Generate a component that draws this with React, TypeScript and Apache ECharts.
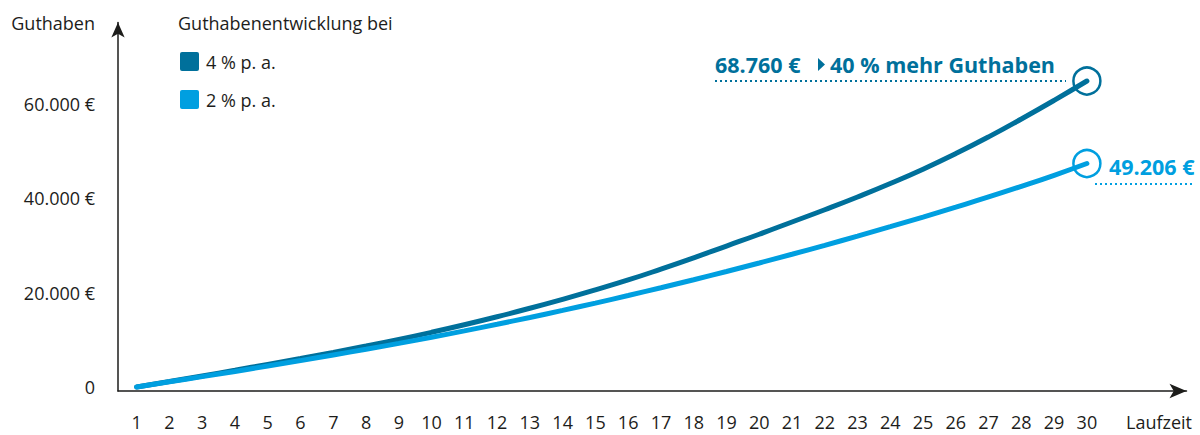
import React, { useEffect, useRef } from "react";
import * as echarts from "echarts";

const years = [1, 2, 3, 4, 5, 6, 7, 8, 9, 10, 11, 12, 13, 14, 15, 16, 17, 18, 19, 20, 21, 22, 23, 24, 25, 26, 27, 28, 29, 30];
const values4 = [0, 1150, 2350, 3550, 4800, 6050, 7350, 8700, 10100, 11600, 13200, 14900, 16700, 18600, 20600, 22700, 25000, 27400, 29900, 32400, 35000, 37600, 40300, 43150, 46200, 49500, 53050, 56850, 60800, 64900];
const values2 = [0, 1100, 2200, 3300, 4450, 5600, 6800, 8000, 9250, 10550, 11900, 13300, 14750, 16250, 17800, 19400, 21050, 22750, 24500, 26300, 28150, 30050, 32000, 34000, 36050, 38150, 40300, 42550, 44900, 47400];
const yTicks = [0, 20000, 40000, 60000];
const seriesNames = ["4 % p. a.", "2 % p. a."];
const label4 = "68.760 €";
const label4b = "40 % mehr Guthaben";
const label2 = "49.206 €";

const DARK = "#00709b";
const LIGHT = "#009fe0";
const TEXT = "#1d1d1b";
const FONT = "'Open Sans', sans-serif";

function fmt(v: number): string {
  if (v === 0) return "0";
  return String(v).replace(/\B(?=(\d{3})+(?!\d))/g, ".") + " €";
}

export default function App() {
  const ref = useRef<HTMLDivElement>(null);
  useEffect(() => {
    document.body.style.margin = "0";
    const chart = echarts.init(ref.current!, null, { renderer: "svg" });
    const last = years.length - 1;
    chart.setOption({
      animation: false,
      backgroundColor: "#ffffff",
      textStyle: { fontFamily: FONT },
      grid: { left: 118, right: 13.5, top: 22.5, bottom: 44 },
      legend: {
        orient: "vertical",
        left: 180,
        top: 52,
        padding: 0,
        itemWidth: 19,
        itemHeight: 19,
        itemGap: 19,
        icon: "path://M2,0H17Q19,0 19,2V17Q19,19 17,19H2Q0,19 0,17V2Q0,0 2,0Z",
        data: seriesNames,
        textStyle: { fontSize: 18, color: TEXT, fontFamily: FONT, padding: [0, 0, 0, 2] },
      },
      xAxis: {
        type: "value",
        min: 0.43,
        max: 33.04,
        splitLine: { show: false },
        axisTick: { show: false },
        axisLine: {
          onZero: false,
          symbol: ["none", "arrow"],
          symbolSize: [11, 17],
          lineStyle: { color: "#1d1d1b", width: 1.5 },
        },
        axisLabel: {
          customValues: years,
          fontSize: 18,
          color: TEXT,
          margin: 22,
          fontFamily: FONT,
        },
      },
      yAxis: {
        type: "value",
        min: -850,
        max: 77310,
        splitLine: { show: false },
        axisTick: { show: false },
        axisLine: {
          show: true,
          onZero: false,
          symbol: ["none", "arrow"],
          symbolSize: [10, 15],
          lineStyle: { color: "#1d1d1b", width: 1.5 },
        },
        axisLabel: {
          customValues: yTicks,
          formatter: (v: number) => fmt(v),
          fontSize: 18,
          color: TEXT,
          margin: 23,
          fontFamily: FONT,
        },
      },
      series: [
        {
          name: seriesNames[0],
          type: "line",
          smooth: true,
          symbol: "none",
          color: DARK,
          lineStyle: { width: 5, color: DARK, cap: "round" },
          data: years.map((y, i) => [y, values4[i]]),
          markPoint: {
            symbol: "circle",
            symbolSize: 27,
            label: { show: false },
            itemStyle: { color: "rgba(0,0,0,0)", borderColor: DARK, borderWidth: 2.5 },
            data: [{ coord: [years[last], values4[last]] }],
          },
          z: 2,
        },
        {
          name: seriesNames[1],
          type: "line",
          smooth: true,
          symbol: "none",
          color: LIGHT,
          lineStyle: { width: 5, color: LIGHT, cap: "round" },
          data: years.map((y, i) => [y, values2[i]]),
          markPoint: {
            symbol: "circle",
            symbolSize: 27,
            label: { show: false },
            itemStyle: { color: "rgba(0,0,0,0)", borderColor: LIGHT, borderWidth: 2.5 },
            data: [{ coord: [years[last], values2[last]] }],
          },
          z: 3,
        },
      ],
      graphic: [
        {
          type: "text",
          x: 95,
          y: 23,
          style: { text: "Guthaben", fontSize: 18, fill: TEXT, fontFamily: FONT, textAlign: "right", textVerticalAlign: "middle" },
        },
        {
          type: "text",
          x: 178,
          y: 23,
          style: { text: "Guthabenentwicklung bei", fontSize: 18, fill: TEXT, fontFamily: FONT, textAlign: "left", textVerticalAlign: "middle" },
        },
        {
          type: "text",
          x: 1126,
          y: 422,
          style: { text: "Laufzeit", fontSize: 18, fill: TEXT, fontFamily: FONT, textAlign: "left", textVerticalAlign: "middle" },
        },
        {
          type: "text",
          x: 715,
          y: 64,
          style: { text: label4, fontSize: 21.5, fontWeight: "bold", fill: DARK, fontFamily: FONT, textAlign: "left", textVerticalAlign: "middle" },
        },
        {
          type: "polygon",
          shape: { points: [[818, 58], [818, 71], [825, 64.5]] },
          style: { fill: DARK },
        },
        {
          type: "text",
          x: 830,
          y: 64,
          style: { text: label4b, fontSize: 21.5, fontWeight: "bold", fill: DARK, fontFamily: FONT, textAlign: "left", textVerticalAlign: "middle" },
        },
        {
          type: "line",
          shape: { x1: 715, y1: 81, x2: 1066, y2: 81 },
          style: { stroke: DARK, lineWidth: 2, lineDash: [2, 3] },
        },
        {
          type: "text",
          x: 1109,
          y: 166,
          style: { text: label2, fontSize: 21.5, fontWeight: "bold", fill: LIGHT, fontFamily: FONT, textAlign: "left", textVerticalAlign: "middle" },
        },
        {
          type: "line",
          shape: { x1: 1095, y1: 184, x2: 1193, y2: 184 },
          style: { stroke: LIGHT, lineWidth: 2, lineDash: [2, 3] },
        },
      ],
    });
    return () => chart.dispose();
  }, []);
  return <div ref={ref} style={{ width: 1200, height: 435 }} />;
}
